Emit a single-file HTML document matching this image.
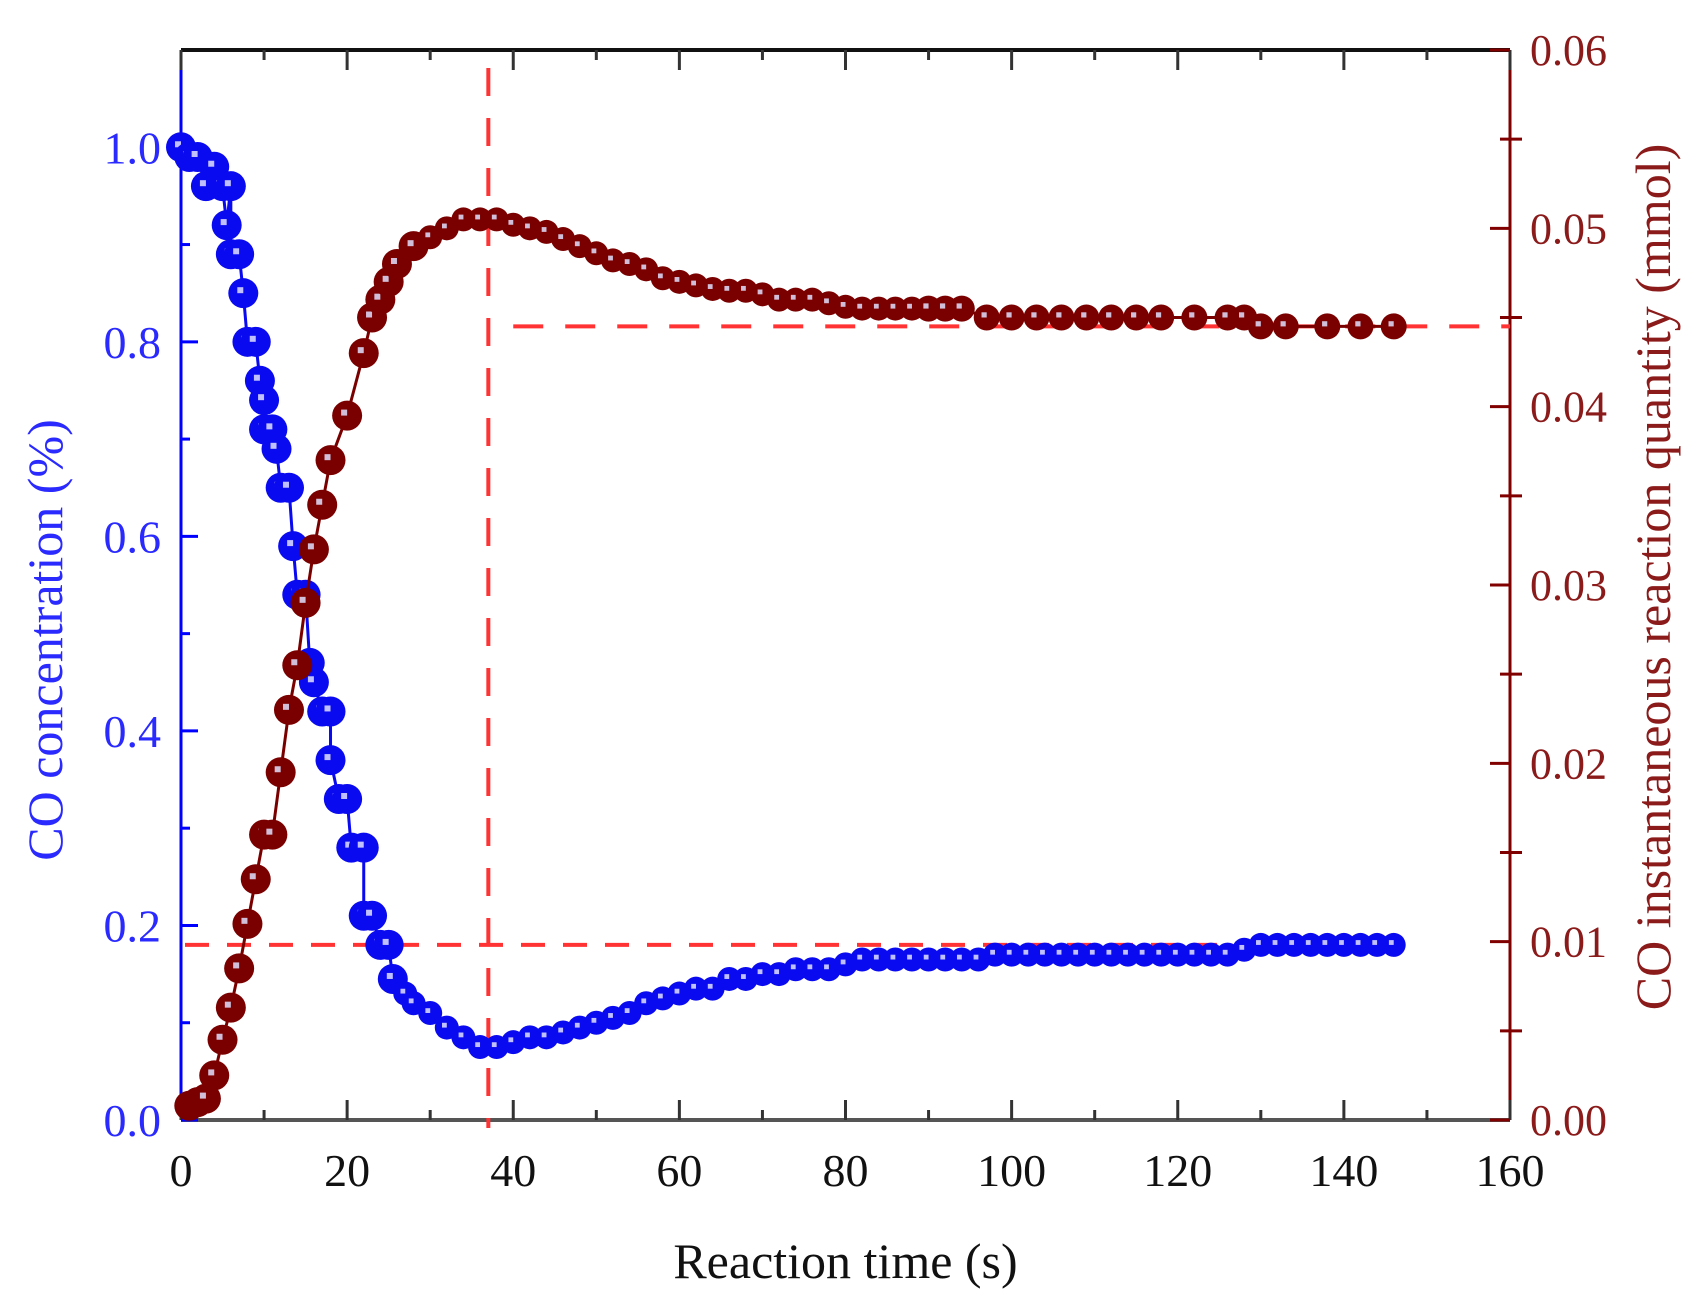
<!DOCTYPE html>
<html><head><meta charset="utf-8"><style>
html,body{margin:0;padding:0;background:#fff;}
svg{display:block;font-family:"Liberation Serif",serif;}
</style></head><body>
<svg id="chart" width="1708" height="1306" viewBox="0 0 1708 1306">
<g id="axes"></g><g id="refs"></g><g id="series"></g><g id="labels"></g>
</svg>
<script>
const blueT=[0,1,2,3,4,5,5.5,6,6,7,7.5,8,9,9.5,10,10,11,11.5,12,13,13.5,14,15,15.5,16,17,18,18,19,20,20.5,22,22,23,24,25,25.5,27,28,30,32,34,36,38,40,42,44,46,48,50,52,54,56,58,60,62,64,66,68,70,72,74,76,78,80,82,84,86,88,90,92,94,96,98,100,102,104,106,108,110,112,114,116,118,120,122,124,126,128,130,132,134,136,138,140,142,144,146];
const blueV=[1.0,0.99,0.99,0.96,0.98,0.96,0.92,0.96,0.89,0.89,0.85,0.80,0.80,0.76,0.74,0.71,0.71,0.69,0.65,0.65,0.59,0.54,0.54,0.47,0.45,0.42,0.42,0.37,0.33,0.33,0.28,0.28,0.21,0.21,0.18,0.18,0.145,0.13,0.12,0.11,0.095,0.085,0.075,0.075,0.08,0.085,0.085,0.09,0.095,0.10,0.105,0.11,0.12,0.125,0.13,0.135,0.135,0.145,0.145,0.15,0.15,0.155,0.155,0.155,0.16,0.165,0.165,0.165,0.165,0.165,0.165,0.165,0.165,0.17,0.17,0.17,0.17,0.17,0.17,0.17,0.17,0.17,0.17,0.17,0.17,0.17,0.17,0.17,0.175,0.18,0.18,0.18,0.18,0.18,0.18,0.18,0.18,0.18];
const redT=[1,2,3,4,5,6,7,8,9,10,11,12,13,14,15,16,17,18,20,22,23,24,25,26,28,30,32,34,36,38,40,42,44,46,48,50,52,54,56,58,60,62,64,66,68,70,72,74,76,78,80,82,84,86,88,90,92,94,97,100,103,106,109,112,115,118,122,126,128,130,133,138,142,146];
const redV=[0.0008,0.001,0.0012,0.0025,0.0045,0.0063,0.0085,0.011,0.0135,0.016,0.016,0.0195,0.023,0.0255,0.029,0.032,0.0345,0.037,0.0395,0.043,0.045,0.046,0.047,0.048,0.049,0.0495,0.05,0.0505,0.0505,0.0505,0.0502,0.05,0.0498,0.0494,0.049,0.0486,0.0482,0.048,0.0477,0.0472,0.047,0.0468,0.0466,0.0465,0.0465,0.0463,0.046,0.046,0.046,0.0458,0.0456,0.0455,0.0455,0.0455,0.0455,0.0455,0.0455,0.0455,0.045,0.045,0.045,0.045,0.045,0.045,0.045,0.045,0.045,0.045,0.045,0.0445,0.0445,0.0445,0.0445,0.0445];
const xTicks=[0,20,40,60,80,100,120,140,160];
const yLeftTicks=[0.0,0.2,0.4,0.6,0.8,1.0];
const yRightTicks=[0,0.01,0.02,0.03,0.04,0.05,0.06];
const vLineT=[37];
const hLineLeft=[0.18];
const hLineRight=[0.0445];

const L=181,R=1510,T=50,B=1120;
const X=v=>L+(v/160)*(R-L);
const YL=v=>B-(v/1.1)*(B-T);
const YR=v=>B-(v/0.06)*(B-T);
const NS='http://www.w3.org/2000/svg';
function mk(tag,attrs,parent,text){const e=document.createElementNS(NS,tag);for(const k in attrs)e.setAttribute(k,attrs[k]);if(text!==undefined)e.textContent=text;document.getElementById(parent).appendChild(e);return e;}

let e;
e=mk('line',{x1:L,y1:T,x2:R,y2:T,stroke:'#111','stroke-width':4},'axes');


e=mk('line',{x1:L,y1:B,x2:R,y2:B,stroke:'#555','stroke-width':4},'axes');


e=mk('line',{x1:L,y1:T,x2:L,y2:B,stroke:'#0000ff','stroke-width':3},'axes');


e=mk('line',{x1:R,y1:T,x2:R,y2:B,stroke:'#800000','stroke-width':3},'axes');



for(let v=0;v<=160;v+=10){const big=v%20===0;
 e=mk('line',{x1:X(v),y1:B,x2:X(v),y2:B-(big?20:10),stroke:'#333','stroke-width':3},'axes');
 
 
 e=mk('line',{x1:X(v),y1:T,x2:X(v),y2:T+(big?20:10),stroke:'#333','stroke-width':3},'axes');
 
 }
xTicks.forEach(v=>{e=mk('text',{x:X(v),y:B+66,'text-anchor':'middle','font-size':46,fill:'#111'},'labels',String(v));
 
 });
for(let i=0;i<=10;i++){const v=i*0.1,big=i%2===0;
 e=mk('line',{x1:L,y1:YL(v),x2:L+(big?17:9),y2:YL(v),stroke:'#0000ff','stroke-width':3},'axes');
 
 }
yLeftTicks.forEach(v=>{e=mk('text',{x:L-20,y:YL(v)+16,'text-anchor':'end','font-size':46,fill:'#2a2aff'},'labels',v.toFixed(1));
 
 });
for(let i=0;i<=12;i++){const v=i*0.005,big=i%2===0;
 e=mk('line',{x1:big?R-20:R-10,y1:YR(v),x2:big?R:R+12,y2:YR(v),stroke:'#800000','stroke-width':3},'axes');
 
 }
yRightTicks.forEach(v=>{e=mk('text',{x:R+20,y:YR(v)+15,'text-anchor':'start','font-size':44,fill:'#8b1a1a'},'labels',v.toFixed(2));
 
 });

vLineT.forEach(v=>{e=mk('line',{x1:X(v),y1:T+18,x2:X(v),y2:B+8,stroke:'#ff3333','stroke-width':4,'stroke-dasharray':'28 22'},'refs');
 
 });
hLineLeft.forEach(v=>{e=mk('line',{x1:L+4,y1:YL(v),x2:X(130),y2:YL(v),stroke:'#ff3333','stroke-width':4,'stroke-dasharray':'24 18'},'refs');
 
 });
hLineRight.forEach(v=>{e=mk('line',{x1:X(40),y1:YR(v),x2:R,y2:YR(v),stroke:'#ff3333','stroke-width':4,'stroke-dasharray':'30 22'},'refs');
 
 });

function series(ts,vs,Y,col,name,rFn){
 e=mk('polyline',{points:ts.map((t,i)=>X(t)+','+Y(vs[i])).join(' '),fill:'none',stroke:col,'stroke-width':3},'series');
 
 
 ts.forEach((t,i)=>{const r=rFn(t);
  e=mk('circle',{cx:X(t),cy:Y(vs[i]),r:r,fill:col},'series');
  
  
  mk('rect',{x:X(t)-r*0.4,y:Y(vs[i])-r*0.4,width:r*0.4,height:r*0.4,fill:'#e0e0ff',opacity:0.85},'series');
 });
}
series(blueT,blueV,YL,'#0a0af0','co-concentration',t=>t<26?15:12);
series(redT,redV,YR,'#7a0000','co-reaction-quantity',t=>t<30?15:(t<90?12:13));

e=mk('text',{x:(L+R)/2,y:1278,'text-anchor':'middle','font-size':50,fill:'#111'},'labels','Reaction time  (s)');


e=mk('text',{x:0,y:0,'text-anchor':'middle','font-size':50,fill:'#2a2aff',transform:'translate(62,640) rotate(-90)'},'labels','CO concentration  (%)');


e=mk('text',{x:0,y:0,'text-anchor':'middle','font-size':50,fill:'#8b1a1a',transform:'translate(1670,577) rotate(-90)'},'labels','CO instantaneous reaction quantity (mmol)');


</script>
</body></html>
